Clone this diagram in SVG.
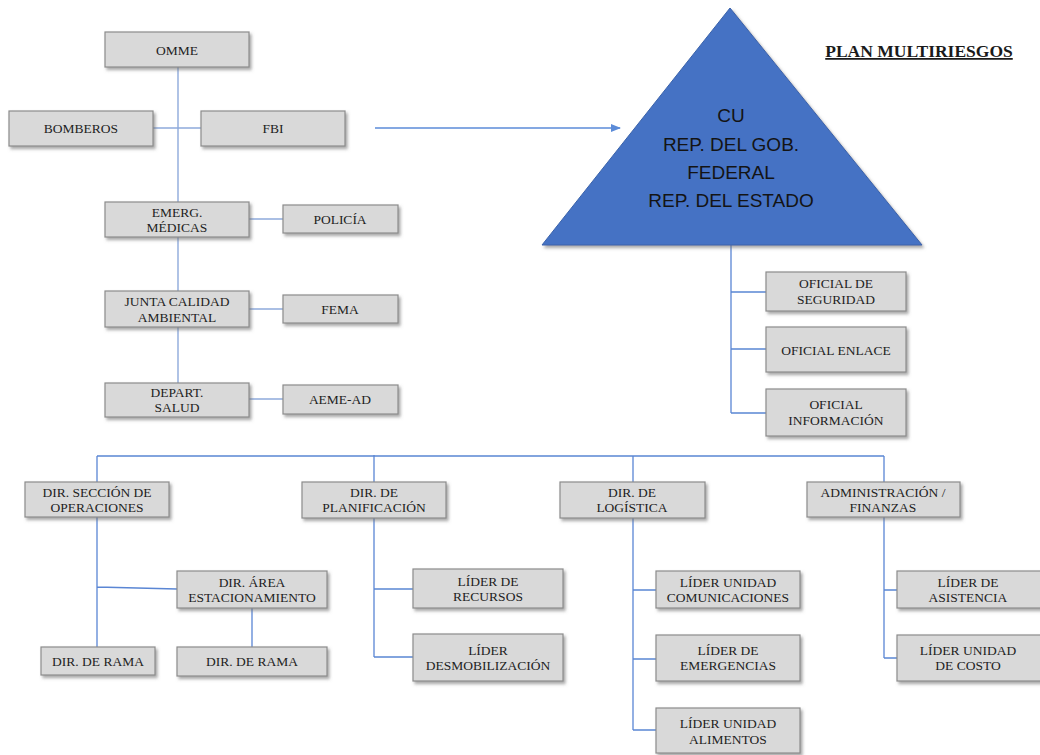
<svg xmlns="http://www.w3.org/2000/svg" width="1040" height="755" viewBox="0 0 1040 755">
<style>
.box{fill:#d9d9d9;stroke:#8c8c8c;stroke-width:1.2;filter:url(#sh)}
.t{font-family:"Liberation Serif","Times New Roman",serif;font-size:13.5px;fill:#1e1e1e;text-anchor:middle}
.c1{stroke:#8eaadb;stroke-width:1.4;fill:none}
.c2{stroke:#5a86d4;stroke-width:1.3;fill:none}
.tri{font-family:"Liberation Sans",Arial,sans-serif;font-size:19px;fill:#141414;text-anchor:middle}
</style>
<defs>
<filter id="sh" x="-10%" y="-10%" width="130%" height="140%">
<feDropShadow dx="2" dy="2.5" stdDeviation="1.5" flood-color="#6e6e6e" flood-opacity="0.6"/>
</filter>
<marker id="ah" markerWidth="10" markerHeight="8" refX="9" refY="4" orient="auto" markerUnits="userSpaceOnUse">
<path d="M0 0 L10 4 L0 8 Z" fill="#5b8bd8"/>
</marker>
</defs>
<rect width="1040" height="755" fill="#ffffff"/>

<g id="connectors">
<path class="c1" d="M178 67 V383"/>
<path class="c1" d="M153 128 H201"/>
<path class="c1" d="M249 219 H283"/>
<path class="c1" d="M249 309 H283"/>
<path class="c1" d="M249 399 H283"/>
<path d="M375 128 H620" stroke="#5b8bd8" stroke-width="1.3" fill="none" marker-end="url(#ah)"/>
<path class="c2" d="M731 245 V413 M731 292 H766 M731 349 H766 M731 413 H766"/>
<path class="c2" d="M97 456 H884 M97 456 V482 M374 455 V482 M633 456 V482 M884 456 V482"/>
<path class="c2" d="M97 517 V647 M97 587 L177 589 M252 608 V647"/>
<path class="c2" d="M374 518 V657 M374 589 H413 M374 657 H413"/>
<path class="c2" d="M633 518 V730 M633 590 H656 M633 659 H656 M633 730 H656"/>
<path class="c2" d="M884 517 V658 M884 590 H897 M884 658 H897"/>
</g>

<g id="title">
<text x="919" y="57" font-family="'Liberation Serif','Times New Roman',serif" font-size="17.5px" font-weight="bold" fill="#1a1a1a" text-anchor="middle" text-decoration="underline">PLAN MULTIRIESGOS</text>
</g>

<g id="cu">
<polygon points="730,8 922,245 542,245" fill="#4472c4" stroke="#3a62aa" stroke-width="1" style="filter:url(#sh)"/>
<text class="tri" x="731" y="122">CU</text>
<text class="tri" x="731" y="151">REP. DEL GOB.</text>
<text class="tri" x="731" y="179">FEDERAL</text>
<text class="tri" x="731" y="207">REP. DEL ESTADO</text>
</g>

<g id="omme"><rect class="box" x="105" y="32" width="144" height="35"/><text class="t" x="177" y="55">OMME</text></g>
<g id="bomberos"><rect class="box" x="9" y="111" width="144" height="35"/><text class="t" x="81" y="133">BOMBEROS</text></g>
<g id="fbi"><rect class="box" x="201" y="111" width="144" height="35"/><text class="t" x="273" y="133">FBI</text></g>
<g id="emerg"><rect class="box" x="105" y="202" width="144" height="35"/><text class="t" x="177" y="217">EMERG.</text><text class="t" x="177" y="232">MÉDICAS</text></g>
<g id="policia"><rect class="box" x="283" y="205" width="115" height="28"/><text class="t" x="340" y="224">POLICÍA</text></g>
<g id="junta"><rect class="box" x="105" y="291" width="144" height="36"/><text class="t" x="177" y="306">JUNTA CALIDAD</text><text class="t" x="177" y="322">AMBIENTAL</text></g>
<g id="fema"><rect class="box" x="283" y="295" width="115" height="28"/><text class="t" x="340" y="314">FEMA</text></g>
<g id="depart"><rect class="box" x="105" y="383" width="144" height="34"/><text class="t" x="177" y="397">DEPART.</text><text class="t" x="177" y="412">SALUD</text></g>
<g id="aeme"><rect class="box" x="283" y="385" width="115" height="29"/><text class="t" x="340" y="404">AEME-AD</text></g>

<g id="of-seguridad"><rect class="box" x="766" y="272" width="140" height="39"/><text class="t" x="836" y="288">OFICIAL DE</text><text class="t" x="836" y="304">SEGURIDAD</text></g>
<g id="of-enlace"><rect class="box" x="766" y="327" width="140" height="45"/><text class="t" x="836" y="355">OFICIAL ENLACE</text></g>
<g id="of-info"><rect class="box" x="766" y="389" width="140" height="47"/><text class="t" x="836" y="409">OFICIAL</text><text class="t" x="836" y="425">INFORMACIÓN</text></g>

<g id="dir-oper"><rect class="box" x="25" y="482" width="144" height="35"/><text class="t" x="97" y="497">DIR. SECCIÓN DE</text><text class="t" x="97" y="512">OPERACIONES</text></g>
<g id="dir-area"><rect class="box" x="177" y="571" width="150" height="37"/><text class="t" x="252" y="587">DIR. ÁREA</text><text class="t" x="252" y="602">ESTACIONAMIENTO</text></g>
<g id="rama1"><rect class="box" x="41" y="647" width="114" height="28"/><text class="t" x="98" y="666">DIR. DE RAMA</text></g>
<g id="rama2"><rect class="box" x="177" y="647" width="150" height="29"/><text class="t" x="252" y="666">DIR. DE RAMA</text></g>

<g id="dir-plan"><rect class="box" x="302" y="482" width="144" height="36"/><text class="t" x="374" y="497">DIR. DE</text><text class="t" x="374" y="512">PLANIFICACIÓN</text></g>
<g id="lider-recursos"><rect class="box" x="413" y="569" width="150" height="39"/><text class="t" x="488" y="586">LÍDER DE</text><text class="t" x="488" y="601">RECURSOS</text></g>
<g id="lider-desmob"><rect class="box" x="413" y="634" width="150" height="47"/><text class="t" x="488" y="655">LÍDER</text><text class="t" x="488" y="670">DESMOBILIZACIÓN</text></g>

<g id="dir-log"><rect class="box" x="560" y="482" width="145" height="36"/><text class="t" x="632" y="497">DIR. DE</text><text class="t" x="632" y="512">LOGÍSTICA</text></g>
<g id="lider-com"><rect class="box" x="656" y="571" width="144" height="37"/><text class="t" x="728" y="587">LÍDER UNIDAD</text><text class="t" x="728" y="602">COMUNICACIONES</text></g>
<g id="lider-emerg"><rect class="box" x="656" y="635" width="144" height="46"/><text class="t" x="728" y="655">LÍDER DE</text><text class="t" x="728" y="670">EMERGENCIAS</text></g>
<g id="lider-alim"><rect class="box" x="656" y="708" width="144" height="45"/><text class="t" x="728" y="728">LÍDER UNIDAD</text><text class="t" x="728" y="744">ALIMENTOS</text></g>

<g id="admin"><rect class="box" x="807" y="482" width="153" height="35"/><text class="t" x="883" y="497">ADMINISTRACIÓN /</text><text class="t" x="883" y="512">FINANZAS</text></g>
<g id="lider-asist"><rect class="box" x="897" y="571" width="146" height="37"/><text class="t" x="968" y="587">LÍDER DE</text><text class="t" x="968" y="602">ASISTENCIA</text></g>
<g id="lider-costo"><rect class="box" x="897" y="635" width="146" height="46"/><text class="t" x="968" y="655">LÍDER UNIDAD</text><text class="t" x="968" y="670">DE COSTO</text></g>
</svg>
